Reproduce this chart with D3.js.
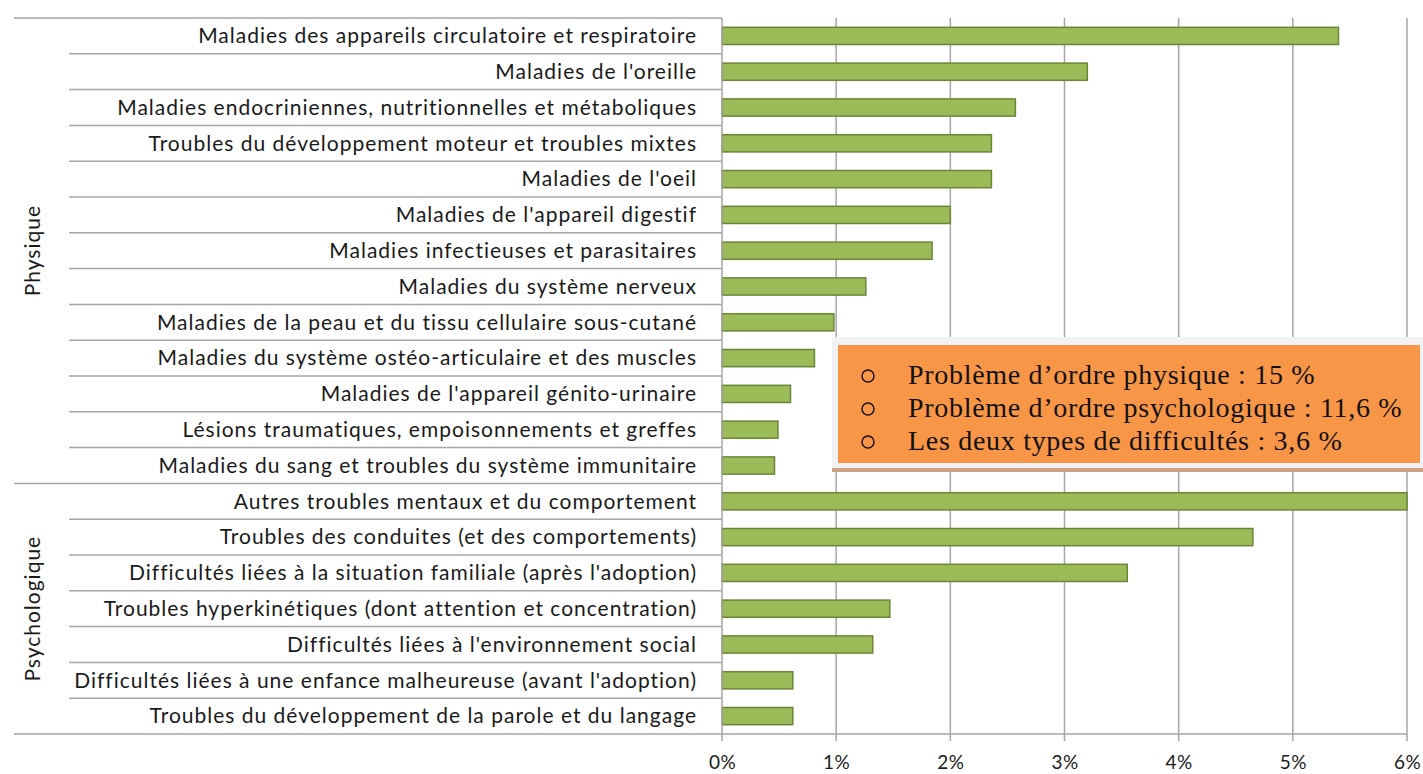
<!DOCTYPE html>
<html>
<head>
<meta charset="utf-8">
<script src="https://cdn.jsdelivr.net/npm/d3@7"></script>
<style>
  body { margin: 0; background: #fff; }
  svg { display: block; }
</style>
</head>
<body>
<div id="chart-area"></div>
<script>
// data (percent)
var physiqueLabels = [
  "Maladies des appareils circulatoire et respiratoire",
  "Maladies de l'oreille",
  "Maladies endocriniennes, nutritionnelles et métaboliques",
  "Troubles du développement moteur et troubles mixtes",
  "Maladies de l'oeil",
  "Maladies de l'appareil digestif",
  "Maladies infectieuses et parasitaires",
  "Maladies du système nerveux",
  "Maladies de la peau et du tissu cellulaire sous-cutané",
  "Maladies du système ostéo-articulaire et des muscles",
  "Maladies de l'appareil génito-urinaire",
  "Lésions traumatiques, empoisonnements et greffes",
  "Maladies du sang et troubles du système immunitaire"
];
var physiqueValues = [5.4, 3.2, 2.57, 2.36, 2.36, 2.0, 1.84, 1.26, 0.98, 0.81, 0.6, 0.49, 0.46];

var psychoLabels = [
  "Autres troubles mentaux et du comportement",
  "Troubles des conduites (et des comportements)",
  "Difficultés liées à la situation familiale (après l'adoption)",
  "Troubles hyperkinétiques (dont attention et concentration)",
  "Difficultés liées à l'environnement social",
  "Difficultés liées à une enfance malheureuse (avant l'adoption)",
  "Troubles du développement de la parole et du langage"
];
var psychoValues = [6.0, 4.65, 3.55, 1.47, 1.32, 0.62, 0.62];

var groupNames = ["Physique", "Psychologique"];
var tickValues = [0, 1, 2, 3, 4, 5, 6];

var boxLines = [
  "Problème d\u2019ordre physique : 15 %",
  "Problème d\u2019ordre psychologique : 11,6 %",
  "Les deux types de difficultés : 3,6 %"
];

var width = 1423, height = 774;
var plotLeft = 722, plotRight = 1407, plotTop = 18, plotBottom = 734;
var labelFont = "Lato, 'Open Sans', sans-serif";

var data = physiqueLabels.map(function (d, i) { return {label: d, value: physiqueValues[i], group: 0}; })
  .concat(psychoLabels.map(function (d, i) { return {label: d, value: psychoValues[i], group: 1}; }));

var svg = d3.select("#chart-area").append("svg").attr("width", width).attr("height", height);

var x = d3.scaleLinear().domain([0, 6]).range([plotLeft, plotRight]);
var y = d3.scaleBand().domain(data.map(function (d) { return d.label; }))
  .range([plotTop, plotBottom]).paddingInner(0.52).paddingOuter(0.26);

var step = y.step();
var gridColor = "#a6a6a6";

// vertical gridlines with ticks below the axis
svg.append("g").selectAll("line").data(tickValues.slice(1)).enter().append("line")
  .attr("x1", function (d) { return x(d); }).attr("x2", function (d) { return x(d); })
  .attr("y1", plotTop).attr("y2", plotBottom + 7)
  .attr("stroke", gridColor).attr("stroke-width", 1.5);

// category separators (left label area)
var boundaries = d3.range(data.length + 1);
svg.append("g").selectAll("line").data(boundaries).enter().append("line")
  .attr("x1", function (i) { return (i === 0 || i === physiqueLabels.length || i === data.length) ? 14 : 69; })
  .attr("x2", function (i) { return i === data.length ? plotRight : plotLeft; })
  .attr("y1", function (i) { return plotTop + i * step; })
  .attr("y2", function (i) { return plotTop + i * step; })
  .attr("stroke", gridColor).attr("stroke-width", 1.5);

// bars
svg.append("g").selectAll("rect").data(data).enter().append("rect")
  .attr("x", x(0))
  .attr("y", function (d) { return y(d.label); })
  .attr("width", function (d) { return x(d.value) - x(0); })
  .attr("height", y.bandwidth())
  .attr("fill", "#9bbb59")
  .attr("stroke", "#6b8536").attr("stroke-width", 1.5);

// category axis line
svg.append("line").attr("x1", plotLeft).attr("x2", plotLeft)
  .attr("y1", plotTop).attr("y2", plotBottom + 7)
  .attr("stroke", gridColor).attr("stroke-width", 1.5);

// category labels
svg.append("g").selectAll("text").data(data).enter().append("text")
  .attr("x", 697)
  .attr("y", function (d) { return y(d.label) + y.bandwidth() / 2; })
  .attr("dy", "0.35em")
  .attr("text-anchor", "end")
  .attr("font-family", labelFont)
  .attr("font-size", "21px")
  .attr("letter-spacing", "1px")
  .attr("fill", "#1a1a1a")
  .text(function (d) { return d.label; });

// group labels
var groupCenters = [
  plotTop + physiqueLabels.length * step / 2,
  plotTop + (physiqueLabels.length + psychoLabels.length / 2) * step
];
svg.append("g").selectAll("text").data(groupNames).enter().append("text")
  .attr("transform", function (d, i) { return "translate(33," + groupCenters[i] + ") rotate(-90)"; })
  .attr("dy", "0.35em")
  .attr("text-anchor", "middle")
  .attr("font-family", labelFont)
  .attr("font-size", "21px")
  .attr("letter-spacing", "1px")
  .attr("fill", "#1a1a1a")
  .text(function (d) { return d; });

// x axis tick labels
var xAxis = d3.axisBottom(x).tickValues(tickValues).tickSize(0).tickPadding(0)
  .tickFormat(function (d) { return d + "%"; });
var xAxisGroup = svg.append("g").attr("transform", "translate(0," + (plotBottom + 28) + ")").call(xAxis);
xAxisGroup.select(".domain").remove();
xAxisGroup.selectAll("text")
  .attr("font-family", labelFont)
  .attr("font-size", "19px")
  .attr("letter-spacing", "0.5px")
  .attr("fill", "#1a1a1a")
  .attr("dy", "0.35em");

// orange text box
var box = svg.append("g");
box.append("rect").attr("x", 832).attr("y", 466).attr("width", 591).attr("height", 6).attr("fill", "#cfa283");
box.append("rect").attr("x", 832).attr("y", 337).attr("width", 591).attr("height", 131).attr("fill", "#f2f2f2");
box.append("rect").attr("x", 838).attr("y", 345).attr("width", 582).attr("height", 118).attr("fill", "#f79646");

box.selectAll("circle").data(boxLines).enter().append("circle")
  .attr("cx", 868).attr("cy", function (d, i) { return 376 + i * 33; })
  .attr("r", 6).attr("fill", "none").attr("stroke", "#111").attr("stroke-width", 1.4);

box.selectAll("text").data(boxLines).enter().append("text")
  .attr("x", 908).attr("y", function (d, i) { return 384 + i * 33; })
  .attr("font-family", "'Liberation Serif', 'DejaVu Serif', serif")
  .attr("font-size", "28px")
  .attr("letter-spacing", "0.7px")
  .attr("fill", "#111")
  .text(function (d) { return d; });
</script>
</body>
</html>
